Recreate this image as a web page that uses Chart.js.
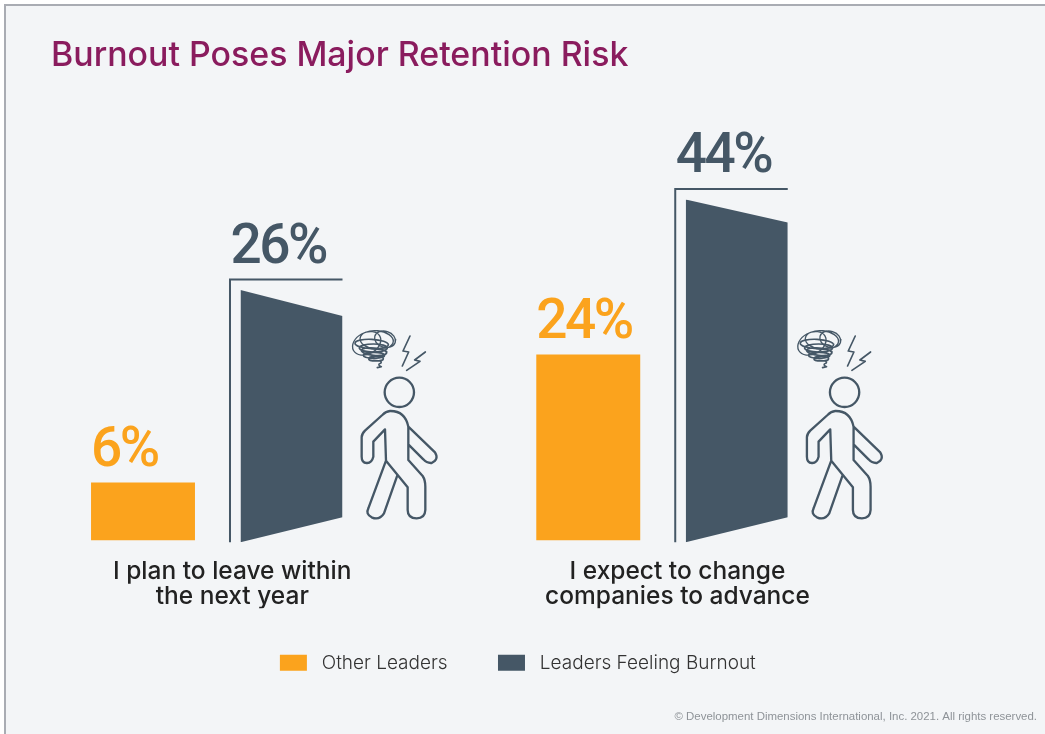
<!DOCTYPE html>
<html>
<head>
<meta charset="utf-8">
<title>Burnout Poses Major Retention Risk</title>
<script src="https://cdn.jsdelivr.net/npm/chart.js@4"></script>
<style>
html, body { margin: 0; background: #fff; overflow: hidden; }
#frame { position: absolute; left: 4px; top: 4px; width: 1041px; height: 730px; box-sizing: border-box;
  border-left: 2px solid #a9acb3; border-top: 2px solid #a9acb3; background: #f3f5f7; }
#myChart { position: absolute; left: 0; top: 0; }
</style>
</head>
<body>
<div id="frame"></div>
<canvas id="myChart" width="1045" height="734"></canvas>
<script>
"use strict";
const categories = [['I plan to leave within', 'the next year'], ['I expect to change', 'companies to advance']];
const otherValues = [6, 24];
const burnoutValues = [26, 44];
const seriesNames = ['Other Leaders', 'Leaders Feeling Burnout'];
const chartTitle = 'Burnout Poses Major Retention Risk';
const copyright = '\u00a9 Development Dimensions International, Inc. 2021. All rights reserved.';

const ORANGE = '#fba31d';
const SLATE = '#455766';
const FONT = 'Inter, "Noto Sans", sans-serif';

// the picture draws each question to its own scale, so each group gets a y axis
function only(values, i) {
    return values.map((v, j) => (j === i ? v : null));
}

function oneBar(chart, datasetIndex) {
    const data = chart.data.datasets[datasetIndex].data;
    return chart.getDatasetMeta(datasetIndex).data[data.findIndex((v) => v !== null)];
}

function doorPath(ctx, el) {
    const left = el.x - el.width / 2;
    const right = el.x + el.width / 2;
    const slant = el.base - el.y > 300 ? 23 : 26;
    ctx.beginPath();
    ctx.moveTo(left, el.y);
    ctx.lineTo(right, el.y + slant);
    ctx.lineTo(right, el.base - 25);
    ctx.lineTo(left, el.base);
    ctx.closePath();
}

// outline traced at 3x, same walker for both groups
function drawWalker(ctx, dx) {
    ctx.save();
    ctx.translate(220 + dx, 200);
    ctx.scale(1 / 3, 1 / 3);
    ctx.strokeStyle = SLATE;
    ctx.lineJoin = 'round';
    ctx.lineCap = 'round';
    ctx.lineWidth = 7;
    ctx.beginPath();
    ctx.arc(538, 577, 44, 0, Math.PI * 2);
    ctx.stroke();

    ctx.beginPath();
    ctx.moveTo(510, 633);
    ctx.quadraticCurveTo(555, 632, 565, 680);
    ctx.lineTo(645, 757);
    ctx.quadraticCurveTo(658, 778, 635, 789);
    ctx.quadraticCurveTo(620, 790, 610, 778);
    ctx.lineTo(565, 733);
    ctx.moveTo(565, 680);
    ctx.lineTo(565, 780);
    ctx.lineTo(608, 828);
    ctx.quadraticCurveTo(616, 840, 616, 860);
    ctx.lineTo(616, 930);
    ctx.quadraticCurveTo(615, 955, 590, 955);
    ctx.quadraticCurveTo(563, 955, 563, 930);
    ctx.lineTo(563, 862);
    ctx.lineTo(498, 782);
    ctx.moveTo(532, 826);
    ctx.lineTo(492, 940);
    ctx.quadraticCurveTo(478, 962, 455, 952);
    ctx.quadraticCurveTo(436, 942, 445, 925);
    ctx.lineTo(498, 782);
    ctx.lineTo(495, 688);
    ctx.lineTo(460, 725);
    ctx.lineTo(460, 770);
    ctx.quadraticCurveTo(455, 790, 440, 789);
    ctx.quadraticCurveTo(425, 788, 425, 770);
    ctx.lineTo(425, 712);
    ctx.quadraticCurveTo(425, 702, 435, 692);
    ctx.lineTo(487, 645);
    ctx.quadraticCurveTo(498, 634, 510, 633);
    ctx.stroke();

    // lightning
    ctx.lineWidth = 5;
    ctx.beginPath();
    ctx.moveTo(570, 408); ctx.lineTo(549, 453); ctx.lineTo(566, 456); ctx.lineTo(547, 498);
    ctx.moveTo(616, 456); ctx.lineTo(584, 480); ctx.lineTo(600, 484); ctx.lineTo(560, 511);
    ctx.stroke();

    // scribble above the head
    ctx.lineWidth = 4;
    ctx.beginPath();
    ctx.ellipse(440, 430, 45, 32, -0.5, 0, Math.PI * 2);
    ctx.moveTo(520, 420);
    ctx.ellipse(470, 420, 50, 28, 0.1, 0, Math.PI * 2);
    ctx.moveTo(527, 418);
    ctx.ellipse(495, 418, 32, 24, 0.3, 0, Math.PI * 2);
    ctx.stroke();
    ctx.lineWidth = 5;
    ctx.beginPath();
    ctx.moveTo(505, 432);
    ctx.ellipse(455, 432, 50, 14, 0.05, 0, Math.PI * 2);
    ctx.moveTo(502, 444);
    ctx.ellipse(460, 444, 42, 12, 0, 0, Math.PI * 2);
    ctx.moveTo(500, 455);
    ctx.ellipse(462, 455, 38, 11, 0.1, 0, Math.PI * 2);
    ctx.moveTo(494, 466);
    ctx.ellipse(462, 466, 32, 9, 0, 0, Math.PI * 2);
    ctx.moveTo(490, 476);
    ctx.ellipse(468, 476, 22, 7, 0, 0, Math.PI * 2);
    ctx.moveTo(460, 482);
    ctx.quadraticCurveTo(490, 480, 482, 490);
    ctx.quadraticCurveTo(470, 494, 484, 500);
    ctx.lineTo(472, 503);
    ctx.stroke();
    ctx.restore();
}

const doorPlugin = {
    id: 'doors',
    beforeDatasetDraw(chart, args) {
        if (args.meta.stack !== 'burnout') return;
        const ctx = chart.ctx;
        ctx.save();
        doorPath(ctx, oneBar(chart, args.index));
        ctx.clip();
    },
    afterDatasetDraw(chart, args) {
        if (args.meta.stack === 'burnout') chart.ctx.restore();
    },
    afterDatasetsDraw(chart) {
        const ctx = chart.ctx;
        ctx.save();
        ctx.textAlign = 'left';
        ctx.textBaseline = 'alphabetic';
        ctx.font = '500 55px Roboto, sans-serif';
        ctx.letterSpacing = '-2.5px';
        chart.data.datasets.forEach((ds, i) => {
            const meta = chart.getDatasetMeta(i);
            const el = oneBar(chart, i);
            const value = ds.data.find((v) => v !== null);
            const left = el.x - el.width / 2;
            if (meta.stack === 'burnout') {
                const frameTop = el.y - 10.5;
                ctx.strokeStyle = SLATE;
                ctx.lineWidth = 2;
                ctx.beginPath();
                ctx.moveTo(left + el.width, frameTop);
                ctx.lineTo(left - 10.5, frameTop);
                ctx.lineTo(left - 10.5, el.base);
                ctx.stroke();
                ctx.fillStyle = SLATE;
                ctx.fillText(value + '%', left - 10, frameTop - 17);
                drawWalker(ctx, el.x - 291.5);
            } else {
                ctx.fillStyle = ORANGE;
                ctx.fillText(value + '%', left, el.y - 16.5);
            }
        });
        ctx.letterSpacing = '0px';
        ctx.font = '11.45px "Liberation Sans", Arial, sans-serif';
        ctx.fillStyle = '#8e9398';
        ctx.textAlign = 'right';
        ctx.fillText(copyright, 1037, 720);
        ctx.restore();
    }
};

const ctx = document.getElementById('myChart');
const myChart = new Chart(ctx, {
    type: 'bar',
    data: {
        labels: categories,
        datasets: [
            { label: seriesNames[0], data: only(otherValues, 0), yAxisID: 'y', stack: 'other', backgroundColor: ORANGE, barPercentage: 0.7, clip: false },
            { label: seriesNames[1], data: only(burnoutValues, 0), yAxisID: 'y', stack: 'burnout', backgroundColor: SLATE, barPercentage: 0.687, base: -0.2, clip: false },
            { label: seriesNames[0], data: only(otherValues, 1), yAxisID: 'y2', stack: 'other', backgroundColor: ORANGE, barPercentage: 0.7, clip: false },
            { label: seriesNames[1], data: only(burnoutValues, 1), yAxisID: 'y2', stack: 'burnout', backgroundColor: SLATE, barPercentage: 0.687, base: -0.25, clip: false }
        ]
    },
    plugins: [doorPlugin],
    options: {
        responsive: false,
        animation: false,
        categoryPercentage: 0.667,
        layout: { padding: { left: 51, right: 55, top: 35, bottom: 51.7 } },
        plugins: {
            tooltip: { enabled: false },
            title: {
                display: true,
                text: chartTitle,
                align: 'start',
                color: '#8a1c5e',
                font: { family: FONT, size: 33.9, weight: '500' },
                padding: { top: 0, bottom: 20 }
            },
            legend: {
                position: 'bottom',
                labels: {
                    boxWidth: 27,
                    boxHeight: 16,
                    padding: 45,
                    color: '#333',
                    font: { family: FONT, size: 19, weight: '300' },
                    filter: (item) => item.datasetIndex < 2,
                    generateLabels(chart) {
                        const items = Chart.defaults.plugins.legend.labels.generateLabels(chart);
                        items.forEach((it) => { it.text = ' ' + it.text + ' '; it.lineWidth = 0; });
                        return items;
                    }
                }
            }
        },
        scales: {
            x: {
                offset: false,
                grid: { display: false },
                border: { display: false },
                ticks: {
                    autoSkip: false,
                    maxRotation: 0,
                    labelOffset: 15,
                    padding: 10.5,
                    color: '#222',
                    font: { family: FONT, size: 24.5, weight: '500', lineHeight: 1.02 }
                },
                afterFit(axis) { axis.height = 68; }
            },
            y: {
                position: 'left',
                stacked: false,
                min: 0,
                max: 46.2,
                grid: { display: false },
                border: { display: false },
                ticks: { display: false },
                afterFit(axis) { axis.width = 166.25; }
            },
            y2: {
                position: 'right',
                stacked: false,
                min: 0,
                max: 57.4,
                grid: { display: false },
                border: { display: false },
                ticks: { display: false },
                afterFit(axis) { axis.width = 327.5; }
            }
        }
    }
});
</script>
</body>
</html>
